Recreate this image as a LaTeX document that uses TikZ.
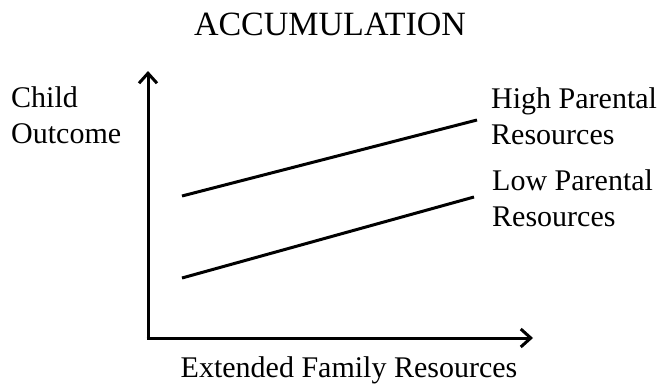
\documentclass[tikz,border=0pt]{standalone}
\usepackage{fontspec}
\setmainfont{Liberation Serif}
\usetikzlibrary{arrows.meta}
\begin{document}
\begin{tikzpicture}[x=1pt,y=-1pt,
  lbl/.style={font=\fontsize{30}{36}\selectfont, inner sep=0pt, align=left},
  axis/.style={line width=3pt, -{Straight Barb[length=10pt,width=18pt,line width=3pt]}},
  trend/.style={line width=3pt}]
\useasboundingbox (0,0) rectangle (658,386);
\node[font=\fontsize{34}{40}\selectfont, inner sep=0pt, anchor=base] (title) at (330,35) {ACCUMULATION};
\coordinate (o) at (148,338);
\coordinate (ytip) at (148,71);
\coordinate (xtip) at (533,338);
\draw[axis] (o) -- (ytip);
\draw[axis] ([xshift=-1.5pt]o) -- (xtip);
\node[lbl, anchor=base west] (yl) at (11,143) {Child\\Outcome};
\node[lbl, anchor=base] (xl) at (349,377) {Extended Family Resources};
\coordinate (h1) at (182,196);
\coordinate (h2) at (477,120);
\coordinate (l1) at (182,278);
\coordinate (l2) at (474,197);
\draw[trend] (h1) -- (h2);
\draw[trend] (l1) -- (l2);
\node[lbl, anchor=base west] (hl) at (491,144) {High Parental\\Resources};
\node[lbl, anchor=base west] (ll) at (492,226) {Low Parental\\Resources};
\end{tikzpicture}
\end{document}
